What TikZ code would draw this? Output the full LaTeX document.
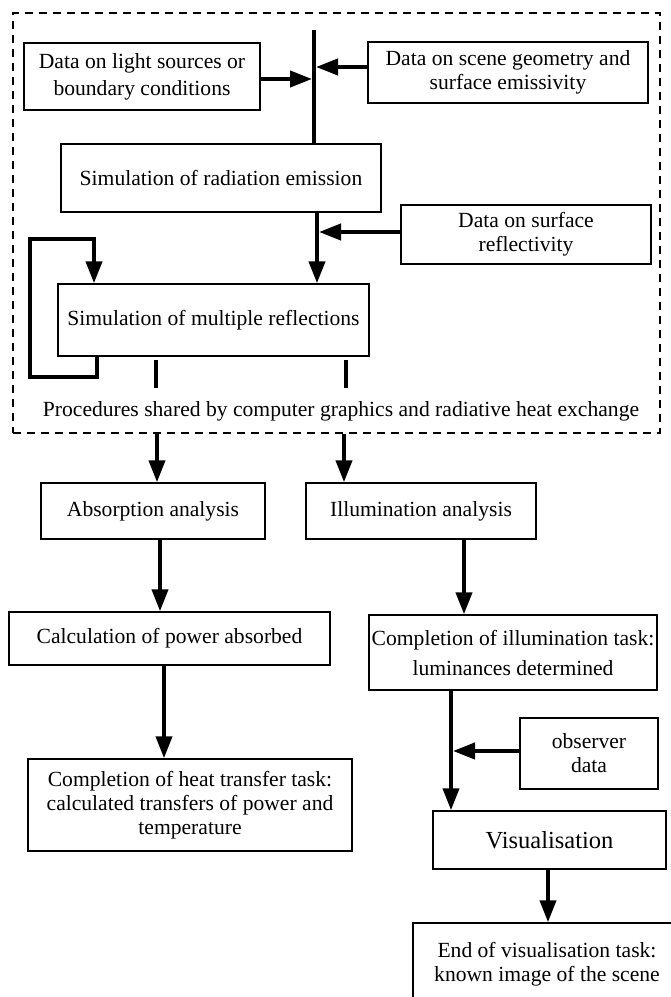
\documentclass[tikz,border=0pt]{standalone}
\usepackage{fontspec}
\setmainfont{Liberation Serif}
\usetikzlibrary{arrows.meta}
\begin{document}
\begin{tikzpicture}[x=1pt,y=-1pt,
 box/.style={draw, line width=1.5pt, align=center, inner sep=0pt, font=\fontsize{21.6}{24}\selectfont},
 conn/.style={line width=4pt, line join=miter},
 arr/.style={conn, -{Triangle[length=22pt,width=16pt]}},
 group/.style={draw, line width=1.5pt, dash pattern=on 8pt off 6pt, inner sep=0pt}
]
\clip (0,0) rectangle (671,997);
\fill[white] (0,0) rectangle (671,997);
% shared procedures group
\node[group, minimum width=647pt, minimum height=420pt] (grp) at (336.5,223) {};
\node[font=\fontsize{21.6}{24}\selectfont, inner sep=0pt] (proc) at (341,411) {Procedures shared by computer graphics and radiative heat exchange};
% boxes
\node[box, minimum width=236pt, minimum height=67pt, font=\fontsize{21.6}{27}\selectfont] (light) at (142,76.5) {Data on light sources or\\boundary conditions};
\node[box, minimum width=280pt, minimum height=61pt] (scene) at (508,72.5) {Data on scene geometry and\\surface emissivity};
\node[box, minimum width=320pt, minimum height=68pt] (rad) at (221,178) {Simulation of radiation emission};
\node[box, minimum width=250pt, minimum height=59pt] (refl) at (526,234.5) {Data on surface\\reflectivity};
\node[box, minimum width=311pt, minimum height=72pt] (mult) at (213.5,320) {Simulation of multiple reflections};
\node[box, minimum width=224pt, minimum height=56pt] (abs) at (153,511) {Absorption analysis};
\node[box, minimum width=230pt, minimum height=56pt] (illum) at (421,511) {Illumination analysis};
\node[box, minimum width=321pt, minimum height=53pt] (calc) at (169.5,638.5) {Calculation of power absorbed};
\node[box, minimum width=288pt, minimum height=75pt, font=\fontsize{21.6}{30}\selectfont] (compl) at (513,652.5) {Completion of illumination task:\\luminances determined};
\node[box, minimum width=138pt, minimum height=71pt] (obs) at (589,753.5) {observer\\data};
\node[box, minimum width=233pt, minimum height=58pt, font=\fontsize{24.5}{28}\selectfont] (vis) at (549.5,840) {Visualisation};
\node[box, minimum width=268pt, minimum height=82pt] (endb) at (547,964) {End of visualisation task:\\known image of the scene};
\node[box, minimum width=324pt, minimum height=92pt] (heat) at (190,805) {Completion of heat transfer task:\\calculated transfers of power and\\temperature};
% junction coordinates
\coordinate (vtop) at (314,30);
\coordinate (ja) at (312,79);
\coordinate (jb) at (316,67);
\coordinate (vx) at (317,0);
\coordinate (jc) at (319,232);
\coordinate (lb) at (97,377);
\coordinate (ll) at (30,377);
\coordinate (lt) at (94,239);
\coordinate (s1a) at (156,360);
\coordinate (s1b) at (156,388);
\coordinate (s2a) at (346,360);
\coordinate (s2b) at (346,388);
\coordinate (ax) at (157,0);
\coordinate (ix) at (344,0);
\coordinate (cx) at (160,0);
\coordinate (ex) at (464,0);
\coordinate (hx) at (164,0);
\coordinate (vlx) at (451,0);
\coordinate (jd) at (453,751);
\coordinate (ox) at (548,0);
% connectors
\draw[conn] (vtop) -- (vtop |- rad.north);
\draw[arr] (light.east |- ja) -- (ja);
\draw[arr] (scene.west |- jb) -- (jb);
\draw[arr] (rad.south -| vx) -- (mult.north -| vx);
\draw[arr] (refl.west |- jc) -- (jc);
\draw[arr] (mult.south -| lb) -- (lb) -- (ll) |- (lt) -- (mult.north -| lt);
\draw[conn] (s1a) -- (s1b);
\draw[conn] (s2a) -- (s2b);
\draw[arr] (grp.south -| ax) -- (abs.north -| ax);
\draw[arr] (grp.south -| ix) -- (illum.north -| ix);
\draw[arr] (abs.south -| cx) -- (calc.north -| cx);
\draw[arr] (illum.south -| ex) -- (compl.north -| ex);
\draw[arr] (calc.south -| hx) -- (heat.north -| hx);
\draw[arr] (compl.south -| vlx) -- (vis.north -| vlx);
\draw[arr] (obs.west |- jd) -- (jd);
\draw[arr] (vis.south -| ox) -- (endb.north -| ox);
\end{tikzpicture}
\end{document}
